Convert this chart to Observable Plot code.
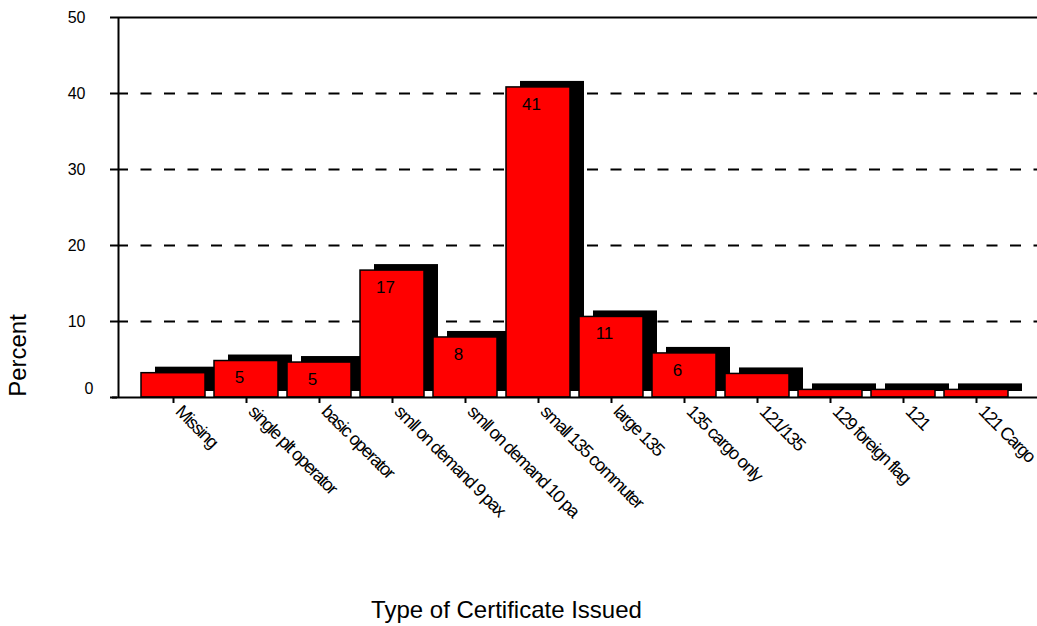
<!DOCTYPE html>
<html>
<head>
<meta charset="utf-8">
<script src="https://cdn.jsdelivr.net/npm/d3@7"></script>
<script src="https://cdn.jsdelivr.net/npm/@observablehq/plot@0.6"></script>
<style>
  html, body { margin: 0; padding: 0; background: #fff; }
  #chart svg { display: block; }
  #chart g[aria-label="x-axis tick label"] text { letter-spacing: -1.4px; }
</style>
</head>
<body>
<div id="chart"></div>
<script>
const categories = ["Missing", "single plt operator", "basic operator", "smll on demand 9 pax",
  "smll on demand 10 pa", "small 135 commuter", "large 135", "135 cargo only", "121/135",
  "129 foreign flag", "121", "121 Cargo"];
const values = [3.2, 4.8, 4.6, 16.7, 7.9, 40.8, 10.6, 5.8, 3.1, 1.0, 1.0, 1.0];
const labels = ["", "5", "5", "17", "8", "41", "11", "6", "", "", "", ""];
const yTicks = [0, 10, 20, 30, 40, 50];
const yLabelTicks = [10, 20, 30, 40, 50];
const zeroTick = [0];
const gridTicks = [10, 20, 30, 40];

const data = categories.map((c, i) => ({cat: c, value: values[i], label: labels[i]}));

const chart = Plot.plot({
  width: 1037,
  height: 626,
  marginLeft: 117,
  marginRight: 0,
  marginTop: 17,
  marginBottom: 229,
  style: {fontFamily: "'Liberation Sans', Arial, sans-serif", background: "#fff", color: "#000"},
  x: {domain: categories, range: [136.5, 1012.5], paddingInner: 0.12, paddingOuter: 0.06, label: null},
  y: {domain: [0, 50], label: null},
  marks: [
    Plot.ruleY(gridTicks, {stroke: "#000", strokeWidth: 2, strokeDasharray: "11,12.5"}),
    Plot.ruleY([50], {stroke: "#000", strokeWidth: 2}),
    Plot.barY(data, {x: "cat", y: "value", fill: "#000", dx: 14, dy: -6}),
    Plot.barY(data, {x: "cat", y: "value", fill: "#ff0000", stroke: "#000", strokeWidth: 1.5}),
    Plot.text(data.filter(d => d.label !== ""), {x: "cat", y: "value", text: "label", dx: -7, dy: 17, fontSize: 17, fill: "#000"}),
    Plot.ruleY([0], {stroke: "#000", strokeWidth: 2, insetLeft: -5}),
    Plot.ruleX([categories[0]], {y1: 0, y2: 50, dx: -55, stroke: "#000", strokeWidth: 2}),
    Plot.axisY({ticks: yTicks, tickSize: 7, text: null, strokeWidth: 2, label: null}),
    Plot.axisY({ticks: yLabelTicks, tickSize: 0, tickPadding: 32, fontSize: 16, label: null}),
    Plot.axisY({ticks: zeroTick, tickSize: 0, tickPadding: 24, dy: -9, fontSize: 16, label: null}),
    Plot.axisX({tickSize: 6, text: null, strokeWidth: 2, label: null}),
    Plot.axisX({tickSize: 0, tickPadding: 11, tickRotate: 45, dx: 5, fontSize: 18, label: null}),
    Plot.text(["Percent"], {frameAnchor: "bottom-left", textAnchor: "middle", lineAnchor: "middle", rotate: -90, dx: -99.5, dy: -42, fontSize: 24, fill: "#000"}),
    Plot.text(["Type of Certificate Issued"], {frameAnchor: "bottom", textAnchor: "middle", lineAnchor: "middle", dx: -71, dy: 213, fontSize: 24, fill: "#000"})
  ]
});
document.getElementById("chart").appendChild(chart);
</script>
</body>
</html>
